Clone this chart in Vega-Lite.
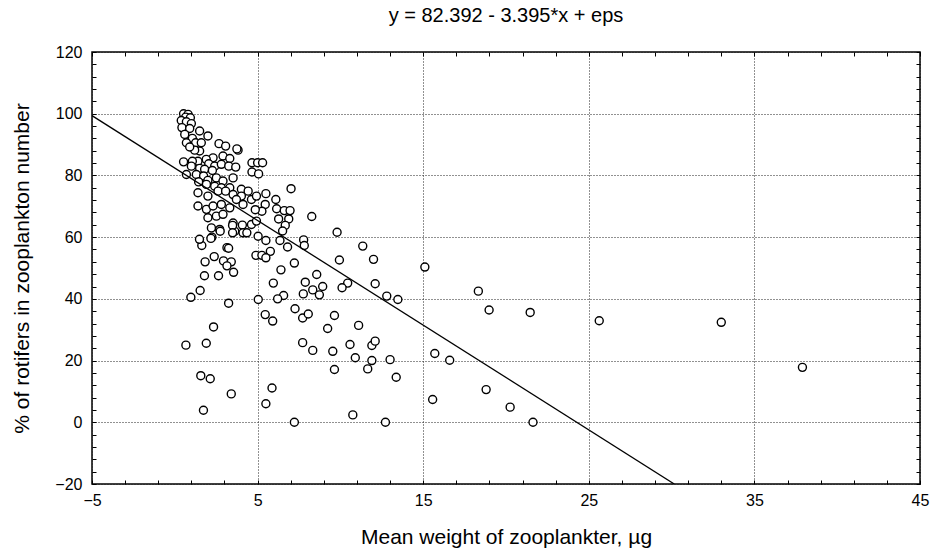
{
  "$schema": "https://vega.github.io/schema/vega-lite/v6.json",
  "width": 828,
  "height": 432,
  "autosize": "none",
  "padding": {"left": 92, "top": 52, "right": 14, "bottom": 73},
  "background": "white",
  "config": {
    "font": "Liberation Sans",
    "view": {"stroke": "black", "strokeWidth": 1.5}
  },
  "title": {
    "text": "y = 82.392 - 3.395*x + eps",
    "fontSize": 20,
    "fontWeight": "normal",
    "font": "Liberation Sans",
    "color": "black",
    "offset": 18,
    "anchor": "middle"
  },
  "datasets": {
    "pts": [
      {"w":0.53,"p":100},{"w":0.80,"p":99.8},{"w":0.66,"p":98.9},{"w":0.94,"p":98.7},{"w":0.39,"p":97.8},{"w":0.70,"p":97.4},{"w":1.0,"p":96.8},{"w":0.43,"p":95.5},{"w":0.90,"p":95.2},{"w":1.5,"p":94.4},
      {"w":2.0,"p":92.8},{"w":0.6,"p":93.3},{"w":1.06,"p":92},{"w":0.70,"p":90.6},{"w":1.26,"p":90.6},{"w":1.6,"p":90.6},{"w":2.67,"p":90.3},{"w":3.07,"p":89.5},{"w":3.82,"p":88.2},{"w":1.5,"p":87.9},
      {"w":1.2,"p":88.2},{"w":0.9,"p":89.2},{"w":2.31,"p":85.7},{"w":2.91,"p":86.3},{"w":3.32,"p":85.5},{"w":1.9,"p":85.2},{"w":1.4,"p":84.6},{"w":0.53,"p":84.4},{"w":1.06,"p":84.6},{"w":1.0,"p":83.0},
      {"w":1.5,"p":82.3},{"w":2.05,"p":83.8},{"w":2.41,"p":83.0},{"w":2.81,"p":83.6},{"w":3.26,"p":83.0},{"w":3.68,"p":82.7},{"w":1.8,"p":82.0},{"w":2.27,"p":81.6},{"w":0.7,"p":80.3},{"w":1.3,"p":80.3},
      {"w":1.74,"p":79.8},{"w":2.0,"p":78.4},{"w":2.51,"p":79.2},{"w":2.91,"p":78.2},{"w":3.52,"p":79.2},{"w":1.44,"p":77.9},{"w":1.91,"p":77.1},{"w":2.41,"p":76.5},{"w":2.81,"p":76.0},{"w":3.32,"p":76.0},
      {"w":1.4,"p":74.4},{"w":2.0,"p":73.3},{"w":2.61,"p":74.9},{"w":3.07,"p":74.9},{"w":3.52,"p":73.8},{"w":4.02,"p":75.5},{"w":4.43,"p":74.9},{"w":4.02,"p":73.3},{"w":4.63,"p":72.2},{"w":4.93,"p":73.3},
      {"w":1.4,"p":70.1},{"w":1.91,"p":69.0},{"w":2.31,"p":70.1},{"w":2.81,"p":70.6},{"w":3.32,"p":69.5},{"w":3.72,"p":72.2},{"w":4.12,"p":70.6},{"w":2.0,"p":66.3},{"w":2.51,"p":66.8},{"w":2.91,"p":67.4},
      {"w":3.52,"p":64.6},{"w":4.08,"p":63.9},{"w":4.63,"p":64.1},{"w":4.93,"p":65.2},{"w":2.21,"p":63.0},{"w":2.71,"p":62.5},{"w":3.62,"p":61.9},{"w":4.12,"p":61.4},{"w":5.03,"p":60.3},
      {"w":7.02,"p":75.7},{"w":8.27,"p":66.7},{"w":9.8,"p":61.6},{"w":11.35,"p":57.1},{"w":7.78,"p":59.1},{"w":7.82,"p":57.3},{"w":6.81,"p":56.8},{"w":9.94,"p":52.6},{"w":12.0,"p":52.8},{"w":7.22,"p":51.6},
      {"w":6.41,"p":49.4},{"w":8.57,"p":47.9},{"w":7.88,"p":45.4},{"w":8.93,"p":44.0},{"w":8.33,"p":42.9},{"w":7.76,"p":41.6},{"w":8.73,"p":41.3},{"w":10.44,"p":45.1},{"w":10.1,"p":43.6},{"w":12.1,"p":44.9},
      {"w":12.8,"p":40.9},{"w":13.47,"p":39.8},{"w":5.95,"p":45.1},{"w":6.57,"p":41.1},{"w":6.21,"p":40},{"w":5.04,"p":39.8},{"w":5.46,"p":34.9},{"w":7.26,"p":36.8},{"w":7.72,"p":33.8},{"w":8.06,"p":35.1},
      {"w":9.64,"p":34.6},{"w":4.66,"p":84.1},{"w":5.0,"p":84.1},{"w":5.3,"p":84.1},{"w":4.66,"p":81.1},{"w":5.06,"p":80.5},{"w":3.75,"p":88.6},{"w":5.5,"p":74.1},{"w":6.1,"p":72.2},{"w":6.15,"p":69.2},
      {"w":6.61,"p":68.6},{"w":6.96,"p":68.6},{"w":6.27,"p":65.9},{"w":6.88,"p":65.9},{"w":6.67,"p":63.8},{"w":6.51,"p":62},{"w":6.35,"p":58.9},{"w":5.46,"p":70.6},{"w":5.26,"p":68.4},{"w":4.86,"p":68.9},
      {"w":5.5,"p":58.9},{"w":5.77,"p":55.4},{"w":4.9,"p":54.1},{"w":5.26,"p":54.1},{"w":5.5,"p":53.3},{"w":3.49,"p":63.8},{"w":2.24,"p":60},{"w":1.63,"p":57.3},
      {"w":1.49,"p":59.3},{"w":2.18,"p":59.6},{"w":1.83,"p":52.0},{"w":2.38,"p":53.7},{"w":1.79,"p":47.5},{"w":2.64,"p":47.5},{"w":2.94,"p":52.3},{"w":3.15,"p":56.6},{"w":3.25,"p":56.4},{"w":3.41,"p":52.0},
      {"w":3.15,"p":50.7},{"w":3.55,"p":48.6},{"w":0.97,"p":40.5},{"w":1.53,"p":42.7},{"w":3.25,"p":38.6},{"w":2.34,"p":30.9},{"w":0.67,"p":25.0},{"w":1.90,"p":25.6},{"w":1.57,"p":15.1},{"w":2.14,"p":14.1},
      {"w":3.41,"p":9.2},{"w":1.73,"p":3.9},{"w":2.74,"p":61.9},{"w":3.49,"p":61.4},{"w":4.35,"p":61.4},
      {"w":5.91,"p":32.8},{"w":9.23,"p":30.4},{"w":11.1,"p":31.4},{"w":7.72,"p":25.8},{"w":8.33,"p":23.3},{"w":9.54,"p":23.0},{"w":10.58,"p":25.2},{"w":11.9,"p":24.9},{"w":12.1,"p":26.3},{"w":10.9,"p":20.9},
      {"w":11.9,"p":20.0},{"w":11.65,"p":17.3},{"w":9.64,"p":17.1},{"w":13.0,"p":20.3},{"w":13.37,"p":14.6},{"w":5.87,"p":11.1},{"w":5.5,"p":6.0},{"w":7.22,"p":0},{"w":10.75,"p":2.4},{"w":12.72,"p":0},
      {"w":15.1,"p":50.3},{"w":18.33,"p":42.5},{"w":18.98,"p":36.4},{"w":21.46,"p":35.6},{"w":25.63,"p":32.9},{"w":15.7,"p":22.3},{"w":16.6,"p":20.1},{"w":18.8,"p":10.6},{"w":15.57,"p":7.4},{"w":20.25,"p":4.9},
      {"w":21.63,"p":0},{"w":33.0,"p":32.4},{"w":37.9,"p":17.8}
    ],
    "fit": [
      {"w": -5, "p": 99.367},
      {"w": 30.16, "p": -20}
    ]
  },
  "layer": [
    {
      "data": {"name": "pts"},
      "mark": {"type": "point", "shape": "circle", "filled": true, "fill": "white", "stroke": "black", "strokeWidth": 1.4, "size": 64, "opacity": 1},
      "encoding": {
        "x": {
          "field": "w", "type": "quantitative",
          "scale": {"domain": [-5, 45], "nice": false, "zero": false},
          "axis": {
            "orient": "bottom",
            "title": "Mean weight of zooplankter, µg",
            "titleFontSize": 21, "titleFontWeight": "normal", "titleColor": "black", "titlePadding": 18,
            "values": [-5,-3,-1,1,3,5,7,9,11,13,15,17,19,21,23,25,27,29,31,33,35,37,39,41,43,45],
            "labelExpr": "(datum.value + 5) % 10 == 0 ? datum.label : ''",
            "labelFontSize": 16, "labelColor": "black", "labelPadding": 12, "labelFlush": false,
            "tickSize": -4, "tickColor": "black", "tickWidth": 1,
            "domain": false,
            "grid": true, "gridColor": "#222", "gridDash": [1, 2], "gridWidth": 1,
            "gridOpacity": {"condition": {"test": "(datum.value + 5) % 10 == 0", "value": 1}, "value": 0}
          }
        },
        "y": {
          "field": "p", "type": "quantitative",
          "scale": {"domain": [-20, 120], "nice": false, "zero": false},
          "axis": {
            "orient": "left",
            "title": "% of rotifers in zooplankton number",
            "titleFontSize": 21, "titleFontWeight": "normal", "titleColor": "black", "titlePadding": 22,
            "values": [-20,-16,-12,-8,-4,0,4,8,12,16,20,24,28,32,36,40,44,48,52,56,60,64,68,72,76,80,84,88,92,96,100,104,108,112,116,120],
            "labelExpr": "datum.value % 20 == 0 ? datum.label : ''",
            "labelFontSize": 16, "labelColor": "black", "labelPadding": 14, "labelFlush": false,
            "tickSize": -4, "tickColor": "black", "tickWidth": 1,
            "domain": false,
            "grid": true, "gridColor": "#222", "gridDash": [1, 2], "gridWidth": 1,
            "gridOpacity": {"condition": {"test": "datum.value % 20 == 0", "value": 1}, "value": 0}
          }
        }
      }
    },
    {
      "data": {"name": "fit"},
      "mark": {"type": "line", "color": "black", "strokeWidth": 1.3, "clip": true},
      "encoding": {
        "x": {
          "field": "w", "type": "quantitative",
          "axis": {
            "orient": "top", "title": null, "labels": false, "grid": false, "domain": false,
            "values": [-5,-3,-1,1,3,5,7,9,11,13,15,17,19,21,23,25,27,29,31,33,35,37,39,41,43,45],
            "tickSize": -4, "tickColor": "black", "tickWidth": 1
          }
        },
        "y": {
          "field": "p", "type": "quantitative",
          "axis": {
            "orient": "right", "title": null, "labels": false, "grid": false, "domain": false,
            "values": [-20,-16,-12,-8,-4,0,4,8,12,16,20,24,28,32,36,40,44,48,52,56,60,64,68,72,76,80,84,88,92,96,100,104,108,112,116,120],
            "tickSize": -4, "tickColor": "black", "tickWidth": 1
          }
        }
      }
    }
  ],
  "resolve": {"axis": {"x": "independent", "y": "independent"}}
}
